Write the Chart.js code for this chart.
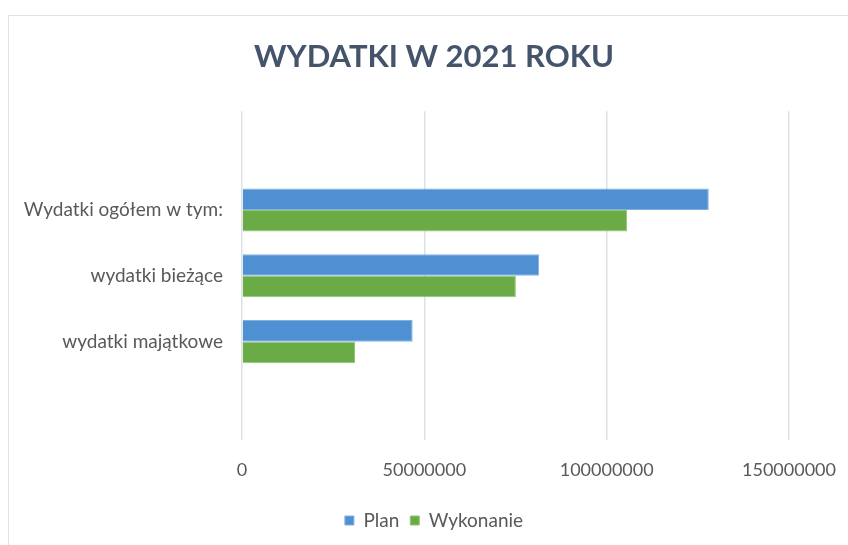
<!DOCTYPE html>
<html>
<head>
<meta charset="utf-8">
<script src="https://cdn.jsdelivr.net/npm/chart.js@4.4.1/dist/chart.umd.min.js"></script>
<style>
  html, body { margin: 0; padding: 0; background: #fff; overflow: hidden; }
  #frame {
    position: absolute; left: 8px; top: 15px;
    width: 850px; height: 560px;
    border: 1px solid #dfe2e6;
  }
  #chart { display: block; }
</style>
</head>
<body>
<div id="frame"><canvas id="chart" width="850" height="560"></canvas></div>
<script>
// dane wykresu (puste kategorie na końcach, jak w oryginale)
const categories = ['', 'Wydatki ogółem w tym:', 'wydatki bieżące', 'wydatki majątkowe', ''];
const planValues = [null, 128000000, 81500000, 46800000, null];
const wykonanieValues = [null, 105600000, 75100000, 31000000, null];
const xTicks = [0, 50000000, 100000000, 150000000];

const textColor = '#595959';

const ctx = document.getElementById('chart');
const chart = new Chart(ctx, {
    type: 'bar',
    data: {
        labels: categories,
        datasets: [{
            label: 'Plan',
            data: planValues,
            backgroundColor: '#4f90d3',
            borderColor: '#7fb2e2',
            borderWidth: 1
        }, {
            label: 'Wykonanie',
            data: wykonanieValues,
            backgroundColor: '#6aab45',
            borderColor: '#93c578',
            borderWidth: 1
        }]
    },
    options: {
        indexAxis: 'y',
        responsive: false,
        animation: false,
        categoryPercentage: 0.655,
        barPercentage: 1,
        layout: { padding: { left: 0, right: 0, top: 0, bottom: 36 } },
        scales: {
            x: {
                min: 0,
                max: 150000000,
                afterBuildTicks: scale => {
                    scale.ticks = xTicks.map(v => ({ value: v }));
                },
                grid: { color: '#dde1e6', lineWidth: 1.5, drawTicks: false },
                border: { display: false },
                ticks: {
                    color: textColor,
                    padding: 19,
                    font: { family: 'Lato', size: 18 },
                    callback: v => String(v)
                }
            },
            y: {
                grid: { display: false, drawTicks: false },
                border: { display: false },
                afterFit: scale => { scale.width = 233; },
                ticks: {
                    color: textColor,
                    padding: 19,
                    font: { family: 'Lato', size: 19 }
                }
            },
            // pusty margines po prawej (obszar wykresu kończy się przed krawędzią)
            yRight: {
                type: 'category',
                position: 'right',
                grid: { display: false, drawTicks: false },
                border: { display: false },
                ticks: { display: false },
                afterFit: scale => { scale.width = 70; }
            }
        },
        plugins: {
            title: {
                display: true,
                text: 'WYDATKI W 2021 ROKU',
                color: '#44546a',
                font: { family: 'Lato', size: 31, weight: 'bold' },
                padding: { top: 22, bottom: 36 }
            },
            legend: {
                position: 'bottom',
                labels: {
                    color: textColor,
                    boxWidth: 9,
                    boxHeight: 9,
                    padding: 11,
                    font: { family: 'Lato', size: 19 }
                }
            },
            tooltip: { enabled: false }
        }
    }
});
</script>
</body>
</html>
